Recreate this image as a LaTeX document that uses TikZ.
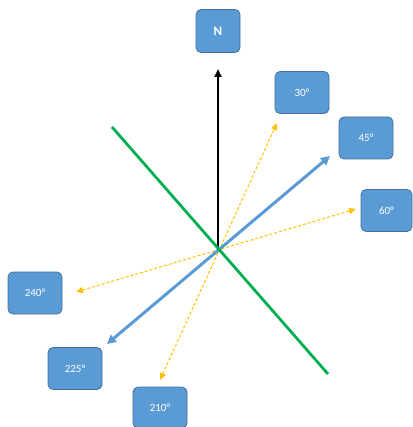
\documentclass[tikz,border=0pt]{standalone}
\usepackage{fontspec}
\setmainfont{Carlito}
\usetikzlibrary{arrows.meta}
\definecolor{boxfill}{HTML}{5B9BD5}
\definecolor{boxline}{HTML}{41719C}
\definecolor{grn}{HTML}{00B050}
\definecolor{ylw}{HTML}{FFC000}
\tikzset{
  dirbox/.style={draw=boxline, line width=0.8pt, fill=boxfill, rounded corners=5pt,
    text=white, font=\fontsize{11}{12}\selectfont, minimum width=54pt, minimum height=42pt, inner sep=0pt},
  nbox/.style={dirbox, font=\bfseries\fontsize{13}{13}\selectfont, minimum width=44pt, minimum height=43pt},
  blk/.style={line width=2.6pt, -{Triangle[length=8pt,width=7pt]}},
  blu/.style={draw=boxfill, line width=3pt, {Triangle[length=9pt,width=9pt]}-{Triangle[length=9pt,width=9pt]}},
  ylwl/.style={draw=ylw, line width=1pt, dash pattern=on 3pt off 2pt, {Triangle[length=7pt,width=6pt]}-{Triangle[length=7pt,width=6pt]}},
  grnl/.style={draw=grn, line width=2.8pt}
}
\begin{document}
\begin{tikzpicture}[x=1pt,y=-1pt]
\useasboundingbox (0,0) rectangle (412,427);
\node[nbox] (N) at (218,31) {N};
\node[dirbox] (b30) at (302,92.5) {30°};
\node[dirbox] (b45) at (366,138) {45°};
\node[dirbox, minimum width=51pt] (b60) at (386.5,210.5) {60°};
\node[dirbox] (b240) at (35,293) {240°};
\node[dirbox] (b225) at (75,368.5) {225°};
\node[dirbox, minimum height=41pt] (b210) at (160,407.5) {210°};
\coordinate (c) at (218,250);
\coordinate (tN) at (218,69);
\coordinate (t30) at (277,123);
\coordinate (t210) at (160,380);
\coordinate (t45) at (330,156);
\coordinate (t225) at (107,344);
\coordinate (t60) at (356,209);
\coordinate (t240) at (76,292);
\coordinate (g1) at (112,127);
\coordinate (g2) at (328,374);
\draw[ylwl] (t210) -- (t30);
\draw[ylwl] (t240) -- (t60);
\draw[blu] (t225) -- (t45);
\draw[blk] (c) -- (tN);
\draw[grnl] (g1) -- (g2);
\end{tikzpicture}
\end{document}
